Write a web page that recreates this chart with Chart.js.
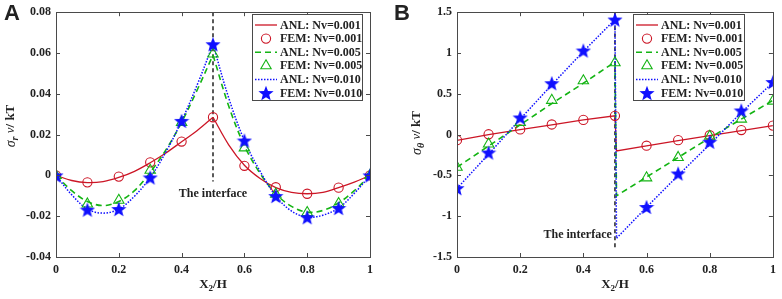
<!DOCTYPE html>
<html>
<head>
<meta charset="utf-8">
<script src="https://cdn.jsdelivr.net/npm/chart.js@4.4.1/dist/chart.umd.min.js"></script>
<style>
    html, body { margin: 0; padding: 0; background: #fff; }
    #wrap { position: relative; width: 782px; height: 299px; }
    canvas { position: absolute; top: 0; }
    #chartA { left: 0; }
    #chartB { left: 391px; }
</style>
</head>
<body>
<div id="wrap">
    <canvas id="chartA" width="391" height="299"></canvas>
    <canvas id="chartB" width="391" height="299"></canvas>
</div>
<script>
// ── Data ───────────────────────────────────────────────────────────────────────

const seriesLabels = ["ANL: Nv=0.001", "FEM: Nv=0.001", "ANL: Nv=0.005", "FEM: Nv=0.005", "ANL: Nv=0.010", "FEM: Nv=0.010"];

const xTicks      = [0, 0.2, 0.4, 0.6, 0.8, 1];
const xTickLabels = ["0", "0.2", "0.4", "0.6", "0.8", "1"];

const yTicksA      = [-0.04, -0.02, 0, 0.02, 0.04, 0.06, 0.08];
const yTickLabelsA = ["-0.04", "-0.02", "0", "0.02", "0.04", "0.06", "0.08"];
const yTicksB      = [-1.5, -1, -0.5, 0, 0.5, 1, 1.5];
const yTickLabelsB = ["-1.5", "-1", "-0.5", "0", "0.5", "1", "1.5"];

const xFem = [0, 0.1, 0.2, 0.3, 0.4, 0.5, 0.6, 0.7, 0.8, 0.9, 1];

// panel A — sigma_r
const xAnlA   = [0, 0.05, 0.1, 0.15, 0.2, 0.25, 0.3, 0.35, 0.4, 0.45, 0.5, 0.55, 0.6, 0.65, 0.7, 0.75, 0.8, 0.85, 0.9, 0.95, 1];
const anlA001 = [0, -0.0025, -0.0035, -0.003, -0.001, 0.002, 0.0062, 0.011, 0.0165, 0.022, 0.0285, 0.015, 0.005, -0.0015, -0.006, -0.0083, -0.009, -0.0083, -0.006, -0.0033, 0];
const anlA005 = [0, -0.0075, -0.0128, -0.0148, -0.0128, -0.0075, 0.0015, 0.0125, 0.026, 0.042, 0.059, 0.034, 0.0145, 0.001, -0.009, -0.0152, -0.018, -0.0172, -0.0135, -0.0075, 0];
const anlA010 = [0, -0.0095, -0.0165, -0.0185, -0.0165, -0.0102, -0.001, 0.0115, 0.0267, 0.0445, 0.0643, 0.038, 0.017, 0.002, -0.0101, -0.0175, -0.0205, -0.0195, -0.016, -0.0088, 0];
const femA001 = [0, -0.0034, -0.0006, 0.0064, 0.0166, 0.0285, 0.0047, -0.0058, -0.009, -0.006, 0];
const femA005 = [0, -0.014, -0.0122, 0.0025, 0.026, 0.0595, 0.0135, -0.0092, -0.0182, -0.0138, 0];
const femA010 = [0, -0.0168, -0.0165, -0.001, 0.0267, 0.0643, 0.0171, -0.0101, -0.0205, -0.016, 0];

// panel B — sigma_theta
const xAnlB   = [0, 0.1, 0.2, 0.3, 0.4, 0.5, 0.505, 0.6, 0.7, 0.8, 0.9, 1];
const anlB001 = [-0.07, 0.0, 0.06, 0.12, 0.18, 0.23, -0.2, -0.138, -0.075, -0.012, 0.05, 0.11];
const anlB005 = [-0.4, -0.14, 0.12, 0.38, 0.63, 0.89, -0.75, -0.52, -0.28, -0.04, 0.19, 0.42];
const anlB010 = [-0.66, -0.24, 0.19, 0.61, 1.02, 1.41, -1.27, -0.89, -0.5, -0.12, 0.27, 0.64];
const femB001 = [-0.068, 0.004, 0.064, 0.124, 0.18, 0.23, -0.136, -0.068, -0.008, 0.056, 0.11];
const femB005 = [-0.4, -0.116, 0.15, 0.42, 0.66, 0.88, -0.53, -0.28, -0.02, 0.19, 0.41];
const femB010 = [-0.656, -0.22, 0.21, 0.63, 1.03, 1.41, -0.887, -0.476, -0.088, 0.296, 0.644];

// interface marker
const ifaceX  = [0.5, 0.5];
const ifaceAY = [0.08, -0.003];
const ifaceBY = [1.5, -1.4];

// ── Styles ─────────────────────────────────────────────────────────────────────

const RED   = "#cc1626";
const GREEN = "#14b414";
const BLUE  = "#1010ff";
const AXIS  = "#4a4a4a";
const SERIF = "'Liberation Serif', 'Times New Roman', serif";

function makeStar(size, color) {
    const c = document.createElement("canvas");
    c.width = c.height = size;
    const g = c.getContext("2d");
    const cx = size / 2, cy = size / 2 + size * 0.05;
    const R = size / 2, r = R * 0.42;
    g.beginPath();
    for (let i = 0; i < 10; i++) {
        const a = -Math.PI / 2 + i * Math.PI / 5;
        const rr = i % 2 === 0 ? R : r;
        g.lineTo(cx + rr * Math.cos(a), cy + rr * Math.sin(a));
    }
    g.closePath();
    g.fillStyle = color;
    g.fill();
    return c;
}
const starImg = makeStar(16, BLUE);

const styles = [
    { kind: "line", color: RED,   dash: [],     width: 1.3 },
    { kind: "mark", color: RED,   point: "circle",   radius: 4.6 },
    { kind: "line", color: GREEN, dash: [6, 4], width: 1.6 },
    { kind: "mark", color: GREEN, point: "triangle", radius: 6 },
    { kind: "line", color: BLUE,  dash: [1.5, 1.5], width: 1.5 },
    { kind: "mark", color: BLUE,  point: starImg,    radius: 8 }
];

// ── Helpers ────────────────────────────────────────────────────────────────────

const pts = (xs, ys) => xs.map((x, i) => ({ x, y: ys[i] }));

function lineDs(xs, ys, st, order, tension) {
    return {
        data: pts(xs, ys), showLine: true, borderColor: st.color, borderWidth: st.width,
        borderDash: st.dash, pointRadius: 0, tension, order, fill: false
    };
}
function markDs(xs, ys, st, order) {
    return {
        data: pts(xs, ys), showLine: false, pointStyle: st.point, pointRadius: st.radius,
        pointBorderColor: st.color, pointBackgroundColor: "rgba(0,0,0,0)", pointBorderWidth: 1.1,
        order
    };
}
// split a smooth analytic curve at the interface so the cusp stays sharp
function splitLine(xs, ys, st, order) {
    const l = xs.map((x, i) => i).filter(i => xs[i] <= 0.5);
    const r = xs.map((x, i) => i).filter(i => xs[i] >= 0.5);
    return [
        lineDs(l.map(i => xs[i]), l.map(i => ys[i]), st, order, 0.35),
        lineDs(r.map(i => xs[i]), r.map(i => ys[i]), st, order, 0.35)
    ];
}

function drawRich(ctx, parts, x, y, align) {
    let total = 0;
    parts.forEach(p => { ctx.font = p.font; total += ctx.measureText(p.t).width; });
    let cx = align === "center" ? x - total / 2 : align === "right" ? x - total : x;
    ctx.textBaseline = "middle";
    ctx.textAlign = "left";
    parts.forEach(p => {
        ctx.font = p.font;
        ctx.fillText(p.t, cx, y + (p.dy || 0));
        cx += ctx.measureText(p.t).width;
    });
}

// ── Plugin: box, inward ticks, titles, legend, annotation ─────────────────────

const panelPlugin = {
    id: "panel",
    afterDraw(chart) {
        const o = chart.options.plugins.panel;
        const { ctx, chartArea: a, scales: { x, y } } = chart;
        ctx.save();

        // box + inward ticks
        ctx.strokeStyle = AXIS;
        ctx.lineWidth = 1;
        ctx.setLineDash([]);
        ctx.strokeRect(Math.round(a.left) + 0.5, Math.round(a.top) + 0.5, Math.round(a.width), Math.round(a.height));
        ctx.beginPath();
        xTicks.forEach(v => {
            const px = Math.round(x.getPixelForValue(v)) + 0.5;
            ctx.moveTo(px, a.bottom); ctx.lineTo(px, a.bottom - 4);
            ctx.moveTo(px, a.top);    ctx.lineTo(px, a.top + 4);
        });
        o.yTicks.forEach(v => {
            const py = Math.round(y.getPixelForValue(v)) + 0.5;
            ctx.moveTo(a.left, py);  ctx.lineTo(a.left + 4, py);
            ctx.moveTo(a.right, py); ctx.lineTo(a.right - 4, py);
        });
        ctx.stroke();

        ctx.fillStyle = "#222";

        // panel letter
        ctx.font = "bold 22px 'Liberation Sans', Arial, sans-serif";
        ctx.textAlign = "left";
        ctx.textBaseline = "top";
        ctx.fillText(o.letter, o.letterX, 3);

        // x title
        drawRich(ctx, [
            { t: "X", font: `bold 13px ${SERIF}` },
            { t: "2", font: `bold 9px ${SERIF}`, dy: 4 },
            { t: "/H", font: `bold 13px ${SERIF}` }
        ], (a.left + a.right) / 2, 285, "center");

        // y title
        ctx.save();
        ctx.translate(o.yTitleX, o.yTitleY);
        ctx.rotate(-Math.PI / 2);
        drawRich(ctx, [
            { t: "σ", font: `italic 14px ${SERIF}` },
            { t: o.sub, font: `italic bold 10px ${SERIF}`, dy: 4 },
            { t: " ν", font: `italic 13px ${SERIF}` },
            { t: "/ kT", font: `bold 13px ${SERIF}` }
        ], 0, 0, "center");
        ctx.restore();

        // interface label
        ctx.font = `bold 12px ${SERIF}`;
        ctx.textAlign = o.ifaceAlign;
        ctx.textBaseline = "middle";
        ctx.fillText("The interface", x.getPixelForValue(o.ifaceTx), y.getPixelForValue(o.ifaceTy));

        // legend
        const b = o.legendBox;
        ctx.fillStyle = "#fff";
        ctx.fillRect(b.left, b.top, b.w, b.h);
        ctx.strokeStyle = AXIS;
        ctx.lineWidth = 1;
        ctx.strokeRect(b.left + 0.5, b.top + 0.5, b.w, b.h);
        seriesLabels.forEach((label, i) => {
            const st = styles[i];
            const ry = b.top + 11 + i * 13.6;
            if (st.kind === "line") {
                ctx.strokeStyle = st.color;
                ctx.lineWidth = st.width;
                ctx.setLineDash(st.dash);
                ctx.beginPath();
                ctx.moveTo(b.left + 3, ry);
                ctx.lineTo(b.left + 25, ry);
                ctx.stroke();
                ctx.setLineDash([]);
            } else if (st.point === "circle") {
                ctx.strokeStyle = st.color;
                ctx.lineWidth = 1.1;
                ctx.beginPath();
                ctx.arc(b.left + 14, ry, st.radius, 0, Math.PI * 2);
                ctx.stroke();
            } else if (st.point === "triangle") {
                ctx.strokeStyle = st.color;
                ctx.lineWidth = 1.1;
                const r = st.radius, cx = b.left + 14;
                ctx.beginPath();
                ctx.moveTo(cx, ry - r);
                ctx.lineTo(cx + r * Math.sin(2 * Math.PI / 3), ry + r / 2);
                ctx.lineTo(cx - r * Math.sin(2 * Math.PI / 3), ry + r / 2);
                ctx.closePath();
                ctx.stroke();
            } else {
                ctx.drawImage(st.point, b.left + 14 - 8, ry - 8);
            }
            ctx.fillStyle = "#222";
            ctx.font = `bold 12px ${SERIF}`;
            ctx.textAlign = "left";
            ctx.textBaseline = "middle";
            ctx.fillText(label, b.left + 28, ry + 0.5);
        });

        ctx.restore();
    }
};

function makePanel(id, cfg) {
    const datasets = [
        { data: pts(ifaceX, cfg.ifaceY), showLine: true, borderColor: "#222", borderWidth: 1.5,
          borderDash: [4, 3], pointRadius: 0, order: 20 },
        ...cfg.lines,
        markDs(xFem, cfg.fem[0], styles[1], 3),
        markDs(xFem, cfg.fem[1], styles[3], 2),
        markDs(xFem, cfg.fem[2], styles[5], 1)
    ];
    return new Chart(document.getElementById(id), {
        type: "scatter",
        data: { datasets },
        plugins: [panelPlugin],
        options: {
            responsive: false,
            animation: false,
            layout: { padding: { top: 7, right: cfg.rightPad, left: 0, bottom: 0 } },
            plugins: {
                legend: { display: false },
                tooltip: { enabled: false },
                panel: cfg.panel
            },
            scales: {
                x: {
                    type: "linear", min: 0, max: 1,
                    afterBuildTicks: s => { s.ticks = xTicks.map(v => ({ value: v })); },
                    afterFit: s => { s.height = 42; },
                    ticks: {
                        callback: (v, i) => xTickLabels[i],
                        color: "#222", padding: 6, maxRotation: 0,
                        font: { family: SERIF, size: 12, weight: "bold" }
                    },
                    grid: { display: false, drawTicks: false },
                    border: { display: false }
                },
                y: {
                    type: "linear", min: cfg.yTicks[0], max: cfg.yTicks[cfg.yTicks.length - 1],
                    afterBuildTicks: s => { s.ticks = cfg.yTicks.map(v => ({ value: v })); },
                    afterFit: s => { s.width = cfg.leftW; },
                    ticks: {
                        callback: (v, i) => cfg.yLabels[i],
                        color: "#222", padding: 5,
                        font: { family: SERIF, size: 12, weight: "bold" }
                    },
                    grid: { display: false, drawTicks: false },
                    border: { display: false }
                }
            }
        }
    });
}

// ── Panel A ────────────────────────────────────────────────────────────────────

makePanel("chartA", {
    yTicks: yTicksA, yLabels: yTickLabelsA, leftW: 56, rightPad: 21, ifaceY: ifaceAY,
    lines: [
        ...splitLine(xAnlA, anlA001, styles[0], 8),
        ...splitLine(xAnlA, anlA005, styles[2], 7),
        ...splitLine(xAnlA, anlA010, styles[4], 6)
    ],
    fem: [femA001, femA005, femA010],
    panel: {
        yTicks: yTicksA, letter: "A", letterX: 4, sub: "r", yTitleX: 11, yTitleY: 126,
        ifaceTx: 0.5, ifaceTy: -0.0091, ifaceAlign: "center",
        legendBox: { left: 252, top: 14, w: 110, h: 86 }
    }
});

// ── Panel B ────────────────────────────────────────────────────────────────────

makePanel("chartB", {
    yTicks: yTicksB, yLabels: yTickLabelsB, leftW: 66, rightPad: 9, ifaceY: ifaceBY,
    lines: [
        lineDs(xAnlB, anlB001, styles[0], 8, 0),
        lineDs(xAnlB, anlB005, styles[2], 7, 0),
        lineDs(xAnlB, anlB010, styles[4], 6, 0)
    ],
    fem: [femB001, femB005, femB010],
    panel: {
        yTicks: yTicksB, letter: "B", letterX: 3, sub: "θ", yTitleX: 26, yTitleY: 133,
        ifaceTx: 0.49, ifaceTy: -1.235, ifaceAlign: "right",
        legendBox: { left: 242, top: 14, w: 111, h: 86 }
    }
});
</script>
</body>
</html>
